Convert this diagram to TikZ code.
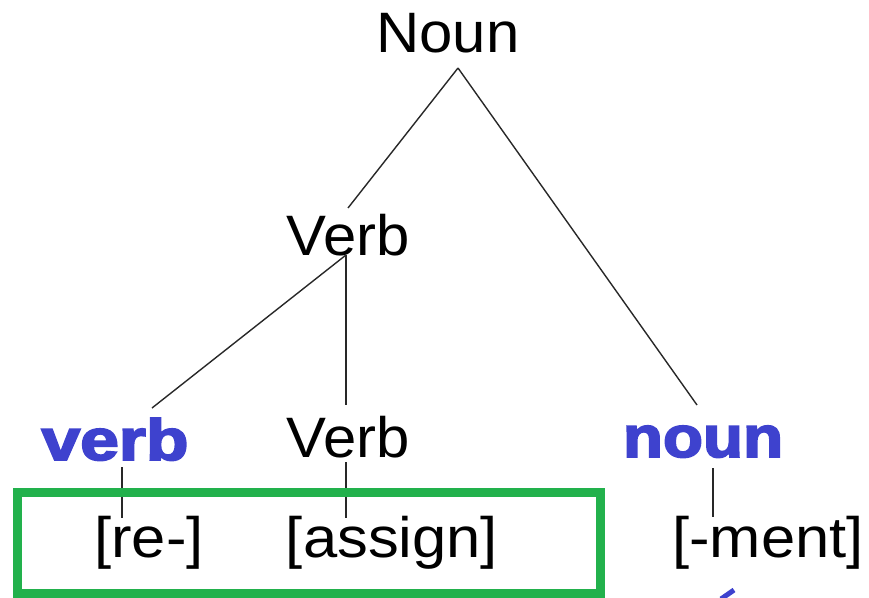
\documentclass[tikz,border=0pt]{standalone}
\usepackage{fontspec}
\setmainfont{Liberation Sans}
\newfontfamily\heavyfont[FakeBold=3]{Liberation Sans Bold}
\definecolor{boxgreen}{RGB}{34,177,76}
\definecolor{tagblue}{RGB}{62,66,206}
\definecolor{linegray}{RGB}{40,40,40}
\begin{document}
\begin{tikzpicture}[x=1pt,y=-1pt,
  lbl/.style={anchor=base,inner sep=0pt,font=\fontsize{57}{60}\selectfont},
  tag/.style={anchor=base,inner sep=0pt,text=tagblue,font=\heavyfont\fontsize{58}{60}\selectfont},
  branch/.style={draw=linegray,line width=1.4pt},
  frame/.style={draw=boxgreen,line width=9pt}]
\useasboundingbox (0,0) rectangle (869,597);
\node[lbl] (Noun) at (448,52) {\scalebox{1.05}[1]{Noun}};
\node[lbl] (VerbA) at (348,255) {\scalebox{1.05}[1]{Verb}};
\node[tag] (verbt) at (115,460) {\scalebox{1.2}[1]{verb}};
\node[lbl] (VerbB) at (348,457) {\scalebox{1.05}[1]{Verb}};
\node[tag] (nount) at (703,457) {\scalebox{1.13}[1]{noun}};
\node[lbl] (re) at (149,557) {\scalebox{1.08}[1]{[re-]}};
\node[lbl] (assign) at (392,557) {\scalebox{1.08}[1]{[assign]}};
\node[lbl] (ment) at (768,557) {\scalebox{1.08}[1]{[-ment]}};
% attachment points
\coordinate (nA) at (458,68);
\coordinate (vAin) at (348,208);
\coordinate (vAout) at (346,255);
\coordinate (vtin) at (152,408);
\coordinate (vBin) at (346,405);
\coordinate (ntin) at (697,405);
\coordinate (vtout) at (122,467);
\coordinate (rein) at (122,518);
\coordinate (vBout) at (346,462);
\coordinate (asin) at (346,518);
\coordinate (ntout) at (713,468);
\coordinate (mein) at (713,517);
\draw[branch] (nA) -- (vAin);
\draw[branch] (nA) -- (ntin);
\draw[branch] (vAout) -- (vtin);
\draw[branch] (vAout) -- (vBin);
\draw[branch] (vtout) -- (rein);
\draw[branch] (vBout) -- (asin);
\draw[branch] (ntout) -- (mein);
\draw[frame] (17,492) rectangle (600,593);
\draw[tagblue,line width=5pt] (721,599) -- (734,590);
\end{tikzpicture}
\end{document}
